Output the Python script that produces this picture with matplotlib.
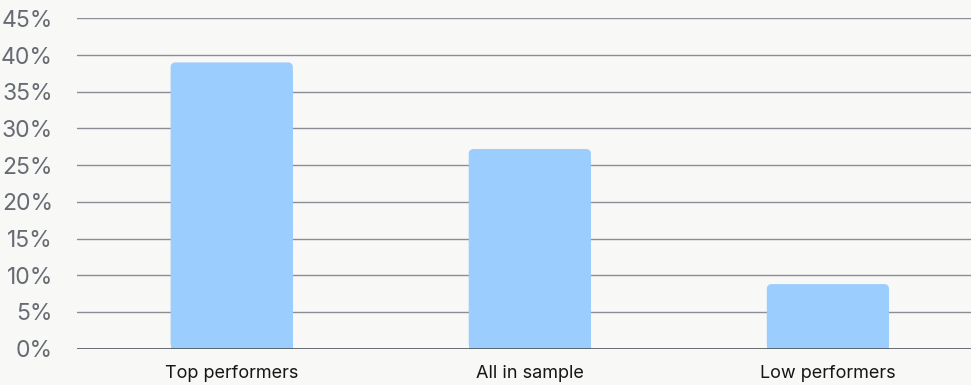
import numpy as np
import matplotlib.pyplot as plt
from matplotlib.patches import FancyBboxPatch, Rectangle

categories = ['Top performers', 'All in sample', 'Low performers']
shares = [39.0, 27.2, 8.8]  # percent
y_ticks = list(range(0, 50, 5))

plt.rcParams['font.family'] = ['Inter', 'DejaVu Sans']

fig = plt.figure(figsize=(9.71, 3.85), dpi=100, facecolor='#f8f8f6')
ax = fig.add_axes([0.079, 0.0943, 0.921, 0.858])
ax.set_facecolor('#f8f8f6')

x = np.arange(len(categories))
ax.set_xlim(-0.52, 2.48)
ax.set_ylim(0, 45)

# horizontal guides, the zero line a bit darker
for t in y_ticks:
    ax.axhline(t, color='#4f535a' if t == 0 else '#8a8d94', lw=1.2 if t == 0 else 1.0,
               zorder=1 if t else 3)

# bars with rounded top corners only
bar_w = 0.41
px_x = 0.921 * 971 / 3.0
px_y = 0.858 * 385 / 45.0
radius = 5 / px_x
for xi, h in zip(x, shares):
    left = xi - bar_w / 2
    ax.add_patch(FancyBboxPatch((left, 0), bar_w, h,
                                boxstyle=f'round,pad=0,rounding_size={radius}',
                                mutation_aspect=px_x / px_y,
                                fc='#9bcdfe', ec='none', zorder=2))
    ax.add_patch(Rectangle((left, 0), bar_w, h - 1.5, fc='#9bcdfe', ec='none', zorder=2))

ax.set_yticks(y_ticks)
ax.set_yticklabels([f'{t}%' for t in y_ticks], fontsize=16.5, color='#676b73')
ax.set_xticks(x)
ax.set_xticklabels(categories, fontsize=13, color='#161616')
ax.tick_params(length=0)
ax.tick_params(axis='y', pad=17)
ax.tick_params(axis='x', pad=12)
for s in ax.spines.values():
    s.set_visible(False)

fig.savefig('out.png', dpi=100, facecolor=fig.get_facecolor())
